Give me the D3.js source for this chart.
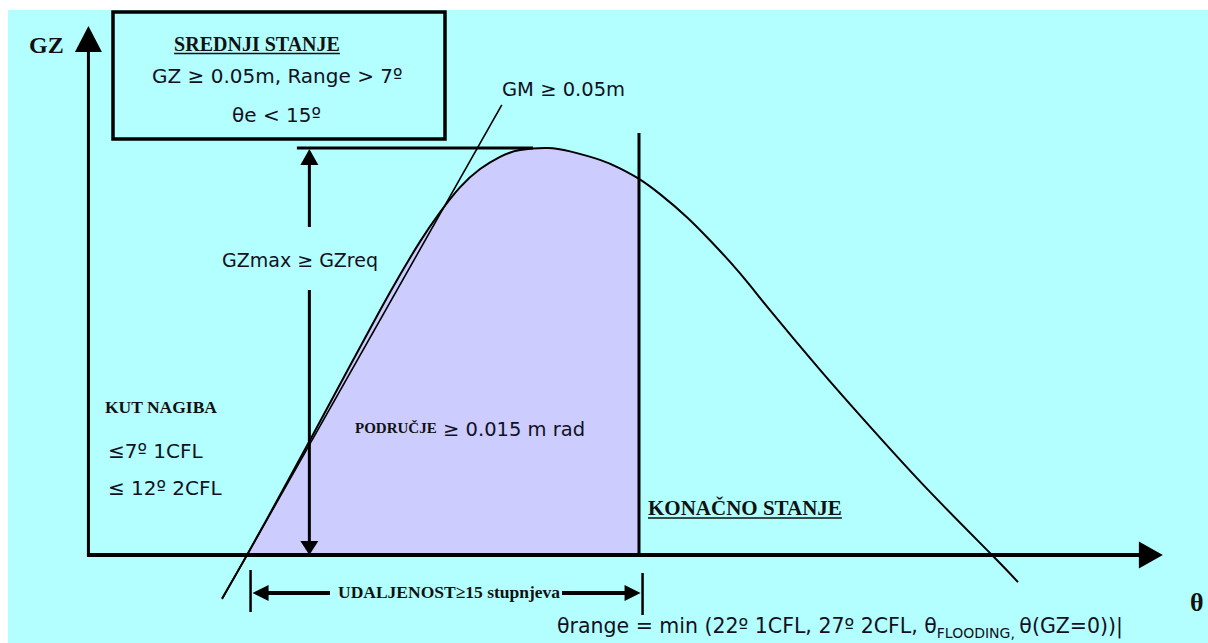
<!DOCTYPE html>
<html>
<head>
<meta charset="utf-8">
<script src="https://cdn.jsdelivr.net/npm/d3@7"></script>
<style>
  body { margin: 0; background: #fff; }
  svg { display: block; }
  .serif { font-family: "Liberation Serif", "Times New Roman", serif; font-weight: bold; fill: #111; }
  .sans { font-family: "DejaVu Sans", Verdana, sans-serif; fill: #111122; }
</style>
</head>
<body>
<svg id="chart"></svg>
<script>
// GZ curve (heel angle in degrees, GZ in metres)
const heelAngles = [-1.4, 0, 1.85, 3.54, 5.78, 7.46, 8.59, 9.71, 10.83, 11.95, 13.08, 14.2, 15.32, 16.89,
  18.13, 19.81, 20.93, 22, 23.18, 24.69, 25.98, 27.11, 28.23, 29.35, 32.16, 35.13, 38.33, 41.81, 43.27];
const gzValues = [-0.0128, 0, 0.0176, 0.0339, 0.0558, 0.0721, 0.0826, 0.0924, 0.101, 0.1084, 0.1138, 0.1174, 0.1194, 0.12,
  0.119, 0.1165, 0.114, 0.1109, 0.1064, 0.0996, 0.0928, 0.0864, 0.0795, 0.0722, 0.0546, 0.0369, 0.0186, 0, -0.008];

// initial GM tangent (through the origin)
const gmAngles = [-1.4, 14.3];
const gmGz     = [-0.013, 0.1327];

// key values
const rangeAngle = 22;        // θrange, end of shaded area
const gzMax = 0.12;           // GZmax
const gzMaxLineAngles = [2.8, 16.05];
const gzMaxArrowAngle = 3.5;
const rangeLineTop = 0.1244;
const distAngles = [0.2, 22.2]; // UDALJENOST dimension

// axis extents
const axisAngles = [-8.9, 51.4];
const axisGz = [0, 0.156];

// text
const boxTitle = 'SREDNJI STANJE';
const boxLines = ['GZ ≥ 0.05m, Range > 7º', 'θe < 15º'];
const gmLabel = 'GM ≥ 0.05m';
const gzMaxLabel = 'GZmax ≥ GZreq';
const heelTitle = 'KUT NAGIBA';
const heelLines = ['≤7º 1CFL', '≤ 12º 2CFL'];
const areaTitle = 'PODRUČJE';
const areaValue = '≥ 0.015 m rad';
const finalTitle = 'KONAČNO STANJE';
const distLabel = 'UDALJENOST≥15 stupnjeva';
const rangeParts = ['θrange = min (22º 1CFL, 27º 2CFL, θ', 'FLOODING, ', 'θ(GZ=0))|'];

const config = {
  width: 1208,
  height: 643,
  bg: '#b3ffff',
  fill: '#ccccff'
};

const svg = d3.select('#chart')
  .attr('width', config.width)
  .attr('height', config.height);

const x = d3.scaleLinear().domain([0, rangeAngle]).range([247, 639]);
const y = d3.scaleLinear().domain([0, gzMax]).range([555, 148]);

// background
svg.append('rect')
  .attr('x', 8).attr('y', 10)
  .attr('width', config.width - 8).attr('height', config.height - 10)
  .attr('fill', config.bg);

const pts = heelAngles.map((a, i) => ({ a: a, gz: gzValues[i] }));

// clip the shaded area to 0..θrange, above the axis
svg.append('clipPath').attr('id', 'range-clip')
  .append('rect')
  .attr('x', x(0)).attr('y', 0)
  .attr('width', x(rangeAngle) - x(0))
  .attr('height', y(0));

const smooth = d3.curveNatural;

const area = d3.area()
  .x(d => x(d.a))
  .y0(y(0))
  .y1(d => y(d.gz))
  .curve(smooth);

svg.append('path')
  .datum(pts)
  .attr('d', area)
  .attr('clip-path', 'url(#range-clip)')
  .attr('fill', config.fill);

// GZ curve
const line = d3.line()
  .x(d => x(d.a))
  .y(d => y(d.gz))
  .curve(smooth);

svg.append('path')
  .datum(pts)
  .attr('d', line)
  .attr('fill', 'none')
  .attr('stroke', '#000')
  .attr('stroke-width', 2);

// GM tangent
svg.append('line')
  .attr('x1', x(gmAngles[0])).attr('y1', y(gmGz[0]))
  .attr('x2', x(gmAngles[1])).attr('y2', y(gmGz[1]))
  .attr('stroke', '#000')
  .attr('stroke-width', 1.6);

// GZmax horizontal
svg.append('line')
  .attr('x1', x(gzMaxLineAngles[0])).attr('y1', y(gzMax))
  .attr('x2', x(gzMaxLineAngles[1])).attr('y2', y(gzMax))
  .attr('stroke', '#000')
  .attr('stroke-width', 3);

// arrow heads
const arrowHead = (tipX, tipY, dir, w, h) => {
  let p;
  if (dir === 'up') p = [[tipX, tipY], [tipX - w / 2, tipY + h], [tipX + w / 2, tipY + h]];
  if (dir === 'down') p = [[tipX, tipY], [tipX - w / 2, tipY - h], [tipX + w / 2, tipY - h]];
  if (dir === 'left') p = [[tipX, tipY], [tipX + h, tipY - w / 2], [tipX + h, tipY + w / 2]];
  if (dir === 'right') p = [[tipX, tipY], [tipX - h, tipY - w / 2], [tipX - h, tipY + w / 2]];
  svg.append('path').attr('d', 'M' + p.join('L') + 'Z').attr('fill', '#000');
};

// GZmax double arrow, broken for the label
const ax = x(gzMaxArrowAngle);
svg.append('line')
  .attr('x1', ax).attr('y1', y(gzMax) + 12)
  .attr('x2', ax).attr('y2', 227)
  .attr('stroke', '#000').attr('stroke-width', 3);
svg.append('line')
  .attr('x1', ax).attr('y1', 290)
  .attr('x2', ax).attr('y2', y(0) - 12)
  .attr('stroke', '#000').attr('stroke-width', 3);
arrowHead(ax, y(gzMax) + 1, 'up', 18, 16);
arrowHead(ax, y(0), 'down', 18, 14);

// θrange vertical line
svg.append('line')
  .attr('x1', x(rangeAngle)).attr('y1', y(rangeLineTop))
  .attr('x2', x(rangeAngle)).attr('y2', y(0))
  .attr('stroke', '#000').attr('stroke-width', 3);

// axes
svg.append('line')
  .attr('x1', x(axisAngles[0])).attr('y1', y(axisGz[0]))
  .attr('x2', x(axisAngles[1]) - 20).attr('y2', y(0))
  .attr('stroke', '#000').attr('stroke-width', 4);
arrowHead(x(axisAngles[1]), y(0), 'right', 27, 24);

svg.append('line')
  .attr('x1', x(axisAngles[0])).attr('y1', y(0) + 2)
  .attr('x2', x(axisAngles[0])).attr('y2', y(axisGz[1]) + 20)
  .attr('stroke', '#000').attr('stroke-width', 3);
arrowHead(x(axisAngles[0]), y(axisGz[1]), 'up', 27, 26);

// distance dimension below the axis
const dy = y(0) + 38;
const dx0 = x(distAngles[0]), dx1 = x(distAngles[1]);
svg.append('line').attr('x1', dx0).attr('y1', dy - 23).attr('x2', dx0).attr('y2', dy + 19)
  .attr('stroke', '#000').attr('stroke-width', 2.5);
svg.append('line').attr('x1', dx1).attr('y1', dy - 20).attr('x2', dx1).attr('y2', dy + 22)
  .attr('stroke', '#000').attr('stroke-width', 2.5);
svg.append('line').attr('x1', dx0 + 14).attr('y1', dy).attr('x2', 330).attr('y2', dy)
  .attr('stroke', '#000').attr('stroke-width', 4);
svg.append('line').attr('x1', 562).attr('y1', dy).attr('x2', dx1 - 14).attr('y2', dy)
  .attr('stroke', '#000').attr('stroke-width', 4);
arrowHead(dx0 + 2, dy, 'left', 16, 16);
arrowHead(dx1 - 2, dy, 'right', 16, 16);

// top-left box
svg.append('rect')
  .attr('x', 113).attr('y', 12)
  .attr('width', 332).attr('height', 127)
  .attr('fill', 'none')
  .attr('stroke', '#000')
  .attr('stroke-width', 3.5);

// text helpers
const addText = (txt, cls, px, py, size, anchor) => svg.append('text')
  .attr('class', cls)
  .attr('x', px).attr('y', py)
  .attr('text-anchor', anchor || 'start')
  .style('font-size', size + 'px')
  .text(txt);

const underline = (t, off) => {
  const b = t.node().getBBox();
  const by = +t.attr('y') + off;
  svg.append('line')
    .attr('x1', b.x).attr('x2', b.x + b.width)
    .attr('y1', by).attr('y2', by)
    .attr('stroke', '#111').attr('stroke-width', 1.5);
};

addText('GZ', 'serif', 29, 53, 24);
underline(addText(boxTitle, 'serif', 257, 51, 20, 'middle'), 2.5);
addText(boxLines[0], 'sans', 152, 83, 20);
addText(boxLines[1], 'sans', 232, 122, 20);
addText(gmLabel, 'sans', 502, 96, 19.5);
addText(gzMaxLabel, 'sans', 222, 267, 19);
addText(heelTitle, 'serif', 105, 413, 17.5);
addText(heelLines[0], 'sans', 108, 458, 20);
addText(heelLines[1], 'sans', 108, 495, 20);
addText(areaTitle, 'serif', 355, 433, 15);
addText(areaValue, 'sans', 443, 436, 19.5);
underline(addText(finalTitle, 'serif', 648, 515, 21), 3);
addText(distLabel, 'serif', 338, 598, 17.5);
addText('θ', 'serif', 1190, 611, 26);

const rt = svg.append('text')
  .attr('class', 'sans')
  .attr('x', 557).attr('y', 633)
  .style('font-size', '20.5px');
rt.append('tspan').text(rangeParts[0]);
rt.append('tspan').attr('dy', 5).style('font-size', '14px').text(rangeParts[1]);
rt.append('tspan').attr('dy', -5).text(rangeParts[2]);
</script>
</body>
</html>
